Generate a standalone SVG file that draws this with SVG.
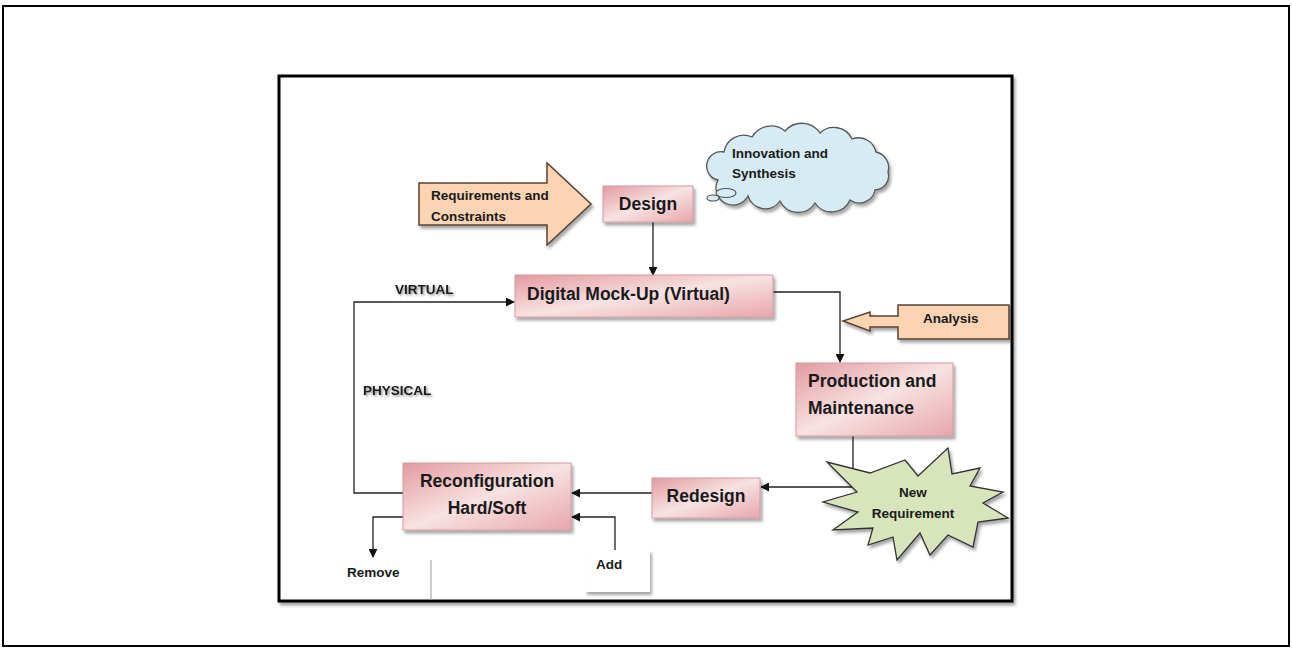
<svg xmlns="http://www.w3.org/2000/svg" width="1292" height="648" viewBox="0 0 1292 648">
<defs>
  <linearGradient id="pink" x1="0" y1="0" x2="1" y2="1">
    <stop offset="0" stop-color="#e39aa1"/>
    <stop offset="0.5" stop-color="#f8e2e2"/>
    <stop offset="1" stop-color="#e7a6ac"/>
  </linearGradient>
  <filter id="sh" x="-10%" y="-10%" width="130%" height="140%">
    <feDropShadow dx="2" dy="3" stdDeviation="1.5" flood-color="#000" flood-opacity="0.35"/>
  </filter>
  <filter id="tsh" x="-10%" y="-30%" width="130%" height="180%">
    <feDropShadow dx="1.5" dy="1.5" stdDeviation="1" flood-color="#000" flood-opacity="0.45"/>
  </filter>
  <marker id="arr" viewBox="0 0 10 10" refX="9" refY="5" markerWidth="9" markerHeight="9" markerUnits="userSpaceOnUse" orient="auto">
    <path d="M0,0 L10,5 L0,10 z" fill="#111"/>
  </marker>
  <style>
    .box { fill: url(#pink); stroke: #d39aa0; stroke-width: 1; filter: url(#sh); }
    .peach { fill: #fbd4b4; stroke: #5a4232; stroke-width: 1.5; filter: url(#sh); }
    .big { font-family: "Liberation Sans", Arial, sans-serif; font-weight: bold; font-size: 17.5px; fill: #1a1a1a; }
    .sm { font-family: "Liberation Sans", Arial, sans-serif; font-weight: bold; font-size: 13.5px; fill: #1a1a1a; }
    .conn { fill: none; stroke: #222; stroke-width: 1.3; marker-end: url(#arr); }
  </style>
</defs>
<rect x="0" y="0" width="1292" height="648" fill="#fff"/>
<rect x="3" y="6" width="1286" height="640" fill="none" stroke="#000" stroke-width="2"/>
<g id="frame">
  <rect x="279" y="76" width="733" height="525" fill="#fff" stroke="#000" stroke-width="3" filter="url(#sh)"/>
</g>

<g id="connectors">
  <path class="conn" d="M653,222 V275"/>
  <path class="conn" d="M773,292 H840 V362"/>
  <path class="conn" d="M853,436 V487 H761"/>
  <path class="conn" d="M652,493 H572"/>
  <path class="conn" d="M403,493 H354 V302 H514"/>
  <path class="conn" d="M403,517 H373 V557"/>
  <path class="conn" d="M615,550 V517 H572"/>
</g>

<g id="requirements">
  <polygon class="peach" points="419,183 547,183 547,163 591,204 547,245 547,225 419,225"/>
  <text class="sm" x="431" y="200" font-size="14">Requirements and</text>
  <text class="sm" x="431" y="221" font-size="14">Constraints</text>
</g>

<g id="design">
  <rect class="box" x="603" y="186" width="90" height="36"/>
  <text class="big" x="648" y="210" text-anchor="middle">Design</text>
</g>

<g id="innovation">
  <path d="M718,180 A14,14 0 0 1 724,152 A20,20 0 0 1 752,137 A22,22 0 0 1 785,131 A22,22 0 0 1 820,133 A20,20 0 0 1 852,139 A18,18 0 0 1 876,152 A16,16 0 0 1 888,172 A14,14 0 0 1 875,190 A16,16 0 0 1 850,200 A20,20 0 0 1 815,203 A20,20 0 0 1 780,201 A18,18 0 0 1 748,196 A16,16 0 0 1 718,180 Z" fill="#d6ebf3" stroke="#555" stroke-width="1.3" filter="url(#sh)"/>
  <ellipse cx="726" cy="193" rx="10" ry="4.5" fill="#d6ebf3" stroke="#555" stroke-width="1.2"/>
  <ellipse cx="713" cy="198" rx="6" ry="3" fill="#d6ebf3" stroke="#555" stroke-width="1.2"/>
  <text class="sm" x="732" y="158" font-size="14">Innovation and</text>
  <text class="sm" x="732" y="178" font-size="14">Synthesis</text>
</g>

<g id="mockup">
  <rect class="box" x="515" y="275" width="258" height="42"/>
  <text class="big" x="527" y="300" font-size="18">Digital Mock-Up (Virtual)</text>
</g>

<g id="virtual-label">
  <text class="sm" x="395" y="294" font-size="13" filter="url(#tsh)">VIRTUAL</text>
</g>
<g id="physical-label">
  <text class="sm" x="363" y="395" font-size="12.5" filter="url(#tsh)">PHYSICAL</text>
</g>

<g id="analysis">
  <polygon class="peach" points="1009,305 898,305 898,316 870,316 870,312 843,321 870,331 870,327 898,327 898,339 1009,339"/>
  <text class="sm" x="923" y="323" font-size="13">Analysis</text>
</g>

<g id="production">
  <rect class="box" x="796" y="363" width="157" height="73"/>
  <text class="big" x="808" y="387">Production and</text>
  <text class="big" x="808" y="414">Maintenance</text>
</g>

<g id="new-requirement">
  <polygon points="948,448 952,474 980,468 970,486 1003,492 983,503 1008,518 978,522 973,547 948,535 930,555 920,533 897,560 893,537 868,545 873,528 833,530 858,512 823,502 857,492 827,462 870,473 905,460 918,476" fill="#d8e4bc" stroke="#333" stroke-width="1.3" filter="url(#sh)"/>
  <text class="sm" x="913" y="497" text-anchor="middle">New</text>
  <text class="sm" x="913" y="518" text-anchor="middle" font-size="13.5">Requirement</text>
</g>

<g id="redesign">
  <rect class="box" x="652" y="478" width="108" height="40"/>
  <text class="big" x="706" y="502" text-anchor="middle">Redesign</text>
</g>

<g id="reconfiguration">
  <rect class="box" x="403" y="463" width="168" height="67"/>
  <text class="big" x="487" y="487" text-anchor="middle">Reconfiguration</text>
  <text class="big" x="487" y="514" text-anchor="middle">Hard/Soft</text>
</g>

<g id="add">
  <rect x="585" y="550" width="65" height="42" fill="#fff" filter="url(#sh)"/>
  <text class="sm" x="596" y="569" font-size="13">Add</text>
</g>

<g id="remove">
  <line x1="431" y1="560" x2="431" y2="600" stroke="#aaa" stroke-width="1.2"/>
  <text class="sm" x="347" y="577" font-size="13">Remove</text>
</g>
</svg>
